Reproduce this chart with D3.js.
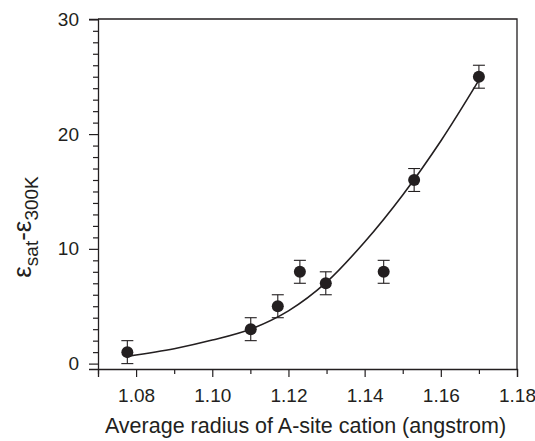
<!DOCTYPE html>
<html>
<head>
<meta charset="utf-8">
<script src="https://cdn.jsdelivr.net/npm/d3@7"></script>
<style>
  body { margin: 0; background: #fff; }
  text { font-family: "Liberation Sans", Arial, sans-serif; fill: #231f20; }
</style>
</head>
<body>
<div id="chart-area"></div>
<script>
// measured points (with +/- 1 error bars)
const radius = [1.0777, 1.1101, 1.1172, 1.1230, 1.1298, 1.1450, 1.1530, 1.1700];
const deltaEps = [1, 3, 5, 8, 7, 8, 16, 25];
const errors = [1, 1, 1, 1, 1, 1, 1, 1];

// fitted curve
const fitX = [1.078, 1.09, 1.10, 1.11, 1.12, 1.13, 1.14, 1.15, 1.16, 1.17];
const fitY = [0.65, 1.3, 2.05, 3.0, 4.6, 7.1, 10.6, 14.7, 19.4, 24.7];

const xMajor = [1.08, 1.10, 1.12, 1.14, 1.16, 1.18];
const yMajor = [0, 10, 20, 30];

const ink = '#231f20';
const W = 535, H = 441;
const margin = {left: 98, right: 18, top: 19, bottom: 72};
const width = W - margin.left - margin.right;
const height = H - margin.top - margin.bottom;

const svg = d3.select('#chart-area')
    .append('svg')
    .attr('width', W)
    .attr('height', H);

const g = svg.append('g')
    .attr('transform', `translate(${margin.left}, ${margin.top})`);

const x = d3.scaleLinear()
    .domain([1.07, 1.18])
    .range([0, width]);

const y = d3.scaleLinear()
    .domain([-0.47, 30.03])
    .range([height, 0]);

// minor ticks
const xMinor = d3.range(1.07, 1.1801, 0.01).map(v => +v.toFixed(2))
    .filter(v => !xMajor.some(m => Math.abs(m - v) < 1e-6));
const yMinor = d3.range(0, 31, 1).filter(v => v % 10 !== 0);

g.append('g')
    .attr('transform', `translate(0, ${height})`)
    .call(d3.axisBottom(x).tickValues(xMinor).tickSize(5).tickFormat(''))
    .call(a => a.select('.domain').remove());

g.append('g')
    .call(d3.axisLeft(y).tickValues(yMinor).tickSize(5).tickFormat(''))
    .call(a => a.select('.domain').remove());

const xAxis = g.append('g')
    .attr('class', 'x axis')
    .attr('transform', `translate(0, ${height})`)
    .call(d3.axisBottom(x).tickValues(xMajor).tickSize(8).tickPadding(12)
        .tickFormat(d3.format('.2f')));

const yAxis = g.append('g')
    .attr('class', 'y axis')
    .call(d3.axisLeft(y).tickValues(yMajor).tickSize(9).tickPadding(10)
        .tickFormat(d3.format('d')));

svg.selectAll('.axis text').attr('font-size', '19px').attr('fill', ink);
svg.selectAll('.tick line').attr('stroke', ink).attr('stroke-width', 1.2);
svg.selectAll('.domain').attr('stroke', ink).attr('stroke-width', 1.3);

// top and right frame lines
g.append('path')
    .attr('d', `M0,0H${width}V${height}`)
    .attr('fill', 'none')
    .attr('stroke', ink)
    .attr('stroke-width', 1.3);

// fitted line
const fit = fitX.map((v, i) => ({x: v, y: fitY[i]}));
g.append('path')
    .datum(fit)
    .attr('fill', 'none')
    .attr('stroke', ink)
    .attr('stroke-width', 1.6)
    .attr('d', d3.line().x(d => x(d.x)).y(d => y(d.y)).curve(d3.curveCatmullRom));

const pts = radius.map((r, i) => ({x: r, y: deltaEps[i], e: errors[i]}));

// error bars
const bars = g.selectAll('.err').data(pts).enter().append('g')
    .attr('class', 'err')
    .attr('stroke', ink)
    .attr('stroke-width', 1.1);
bars.append('line')
    .attr('x1', d => x(d.x)).attr('x2', d => x(d.x))
    .attr('y1', d => y(d.y - d.e)).attr('y2', d => y(d.y + d.e));
bars.append('line')
    .attr('x1', d => x(d.x) - 6).attr('x2', d => x(d.x) + 6)
    .attr('y1', d => y(d.y + d.e)).attr('y2', d => y(d.y + d.e));
bars.append('line')
    .attr('x1', d => x(d.x) - 6).attr('x2', d => x(d.x) + 6)
    .attr('y1', d => y(d.y - d.e)).attr('y2', d => y(d.y - d.e));

g.selectAll('.dot').data(pts).enter().append('circle')
    .attr('class', 'dot')
    .attr('cx', d => x(d.x))
    .attr('cy', d => y(d.y))
    .attr('r', 6)
    .attr('fill', ink);

// axis titles
svg.append('text')
    .attr('x', 305.5)
    .attr('y', 433)
    .attr('font-size', '21.5px')
    .attr('text-anchor', 'middle')
    .text('Average radius of A-site cation (angstrom)');

const yl = svg.append('text')
    .attr('transform', 'translate(31, 227) rotate(-90)')
    .attr('text-anchor', 'middle')
    .attr('font-size', '26px');
yl.append('tspan').text('\u03b5');
yl.append('tspan').attr('font-size', '19px').attr('dy', 7).text('sat');
yl.append('tspan').attr('dy', -7).text('-\u03b5');
yl.append('tspan').attr('font-size', '19px').attr('dy', 7).text('300K');
</script>
</body>
</html>
